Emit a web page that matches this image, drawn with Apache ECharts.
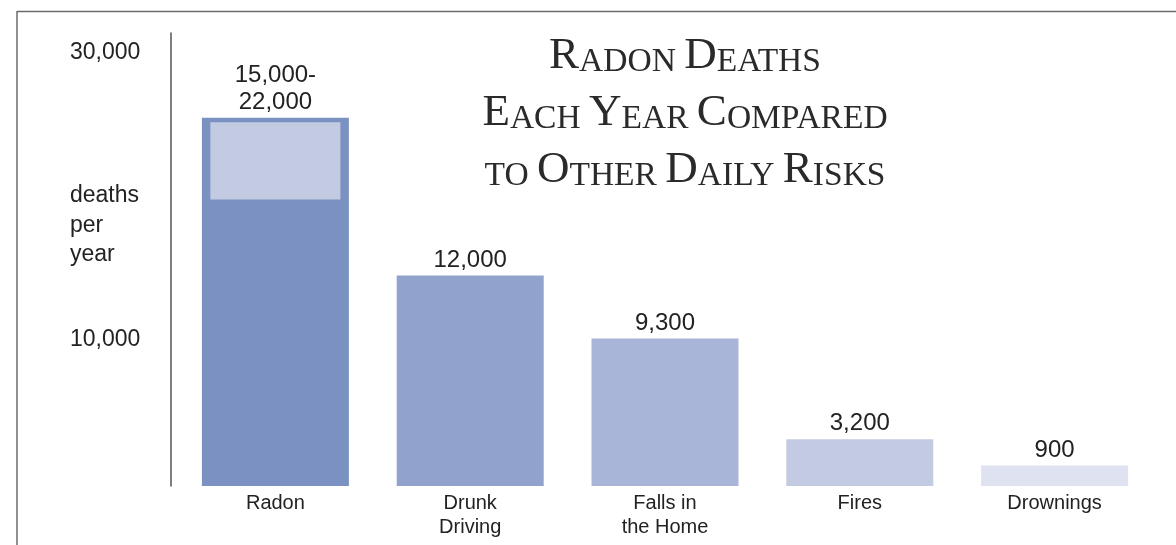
<!DOCTYPE html>
<html>
<head>
    <meta charset="utf-8">
    <title>Radon deaths</title>
    <script type="text/javascript" src="https://cdn.jsdelivr.net/npm/echarts@6/dist/echarts.min.js"></script>
    <style>
        html, body { margin: 0; padding: 0; background: #fff; }
    </style>
</head>
<body>
    <div id="main" style="width: 1176px;height:545px;"></div>
    <script type="text/javascript">
        // values (bar heights against the axis)
        var categories = ['Radon', 'Drunk\nDriving', 'Falls in\nthe Home', 'Fires', 'Drownings'];
        var barHeights = [25200, 14400, 10100, 3200, 1400];
        var barLabels = ['15,000-\n22,000', '12,000', '9,300', '3,200', '900'];
        var barColors = ['#7b91c2', '#91a3cd', '#a9b5d8', '#c3cbe3', '#dee2f1'];
        // lighter box inside the radon bar
        var radonRangeLow = 19600;
        var radonRangeHigh = 24900;
        var tickLabels = { 10000: '{t|10,000}', 30000: '{top|30,000}' };

        var sans = 'Liberation Sans';
        var ink = '#222';

        var option = {
            animation: false,
            grid: { left: 178, right: 24, top: 33, bottom: 59 },
            xAxis: [{
                type: 'category',
                data: categories,
                axisLine: { show: false },
                axisTick: { show: false },
                axisLabel: {
                    fontFamily: sans, fontSize: 20, color: ink,
                    lineHeight: 24, margin: 5
                }
            }, {
                type: 'category',
                data: categories,
                show: false
            }],
            yAxis: {
                type: 'value',
                min: 0,
                max: 31000,
                interval: 10000,
                offset: 7,
                splitLine: { show: false },
                axisTick: { show: false },
                axisLine: { show: true, lineStyle: { color: '#555', width: 1.5 } },
                axisLabel: {
                    align: 'left',
                    margin: 101,
                    formatter: function (v) { return tickLabels[v] || ''; },
                    rich: {
                        t: { fontFamily: sans, fontSize: 23, color: ink },
                        top: { fontFamily: sans, fontSize: 23, color: ink, padding: [10, 0, 0, 0] }
                    }
                }
            },
            series: [{
                type: 'bar',
                barWidth: 147,
                data: barHeights.map(function (v, i) {
                    return { value: v, itemStyle: { color: barColors[i] } };
                }),
                label: {
                    show: true,
                    position: 'top',
                    distance: 2,
                    fontFamily: sans, fontSize: 24, color: ink, lineHeight: 27,
                    formatter: function (p) { return barLabels[p.dataIndex]; }
                }
            }, {
                type: 'bar',
                xAxisIndex: 1,
                stack: 'range',
                barWidth: 130,
                silent: true,
                itemStyle: { color: 'rgba(0,0,0,0)' },
                data: [radonRangeLow, '-', '-', '-', '-']
            }, {
                type: 'bar',
                xAxisIndex: 1,
                stack: 'range',
                barWidth: 130,
                silent: true,
                itemStyle: { color: '#c3cbe3' },
                data: [radonRangeHigh - radonRangeLow, '-', '-', '-', '-']
            }],
            graphic: [{
                type: 'line',
                shape: { x1: 17, y1: 11.5, x2: 1176, y2: 11.5 },
                style: { stroke: '#6b6b6b', lineWidth: 1.5 }
            }, {
                type: 'line',
                shape: { x1: 17, y1: 11, x2: 17, y2: 545 },
                style: { stroke: '#6b6b6b', lineWidth: 1.5 }
            }, {
                type: 'text',
                x: 70,
                y: 181,
                style: {
                    text: 'deaths\nper\nyear',
                    fontFamily: sans, fontSize: 23, fill: ink, lineHeight: 29.5
                }
            }, {
                type: 'text',
                x: 685,
                y: 22,
                style: {
                    text: '{b|R}{s|ADON }{b|D}{s|EATHS}\n' +
                          '{b|E}{s|ACH }{b|Y}{s|EAR }{b|C}{s|OMPARED}\n' +
                          '{s|TO }{b|O}{s|THER }{b|D}{s|AILY }{b|R}{s|ISKS}',
                    align: 'center',
                    verticalAlign: 'top',
                    fill: '#2a2a2a',
                    rich: {
                        b: { fontFamily: 'Liberation Serif', fontSize: 45, lineHeight: 57, verticalAlign: 'bottom', fill: '#2a2a2a' },
                        s: { fontFamily: 'Liberation Serif', fontSize: 33.5, lineHeight: 49, verticalAlign: 'bottom', fill: '#2a2a2a' }
                    }
                }
            }]
        };
        echarts.init(document.getElementById('main')).setOption(option);
    </script>
</body>
</html>
